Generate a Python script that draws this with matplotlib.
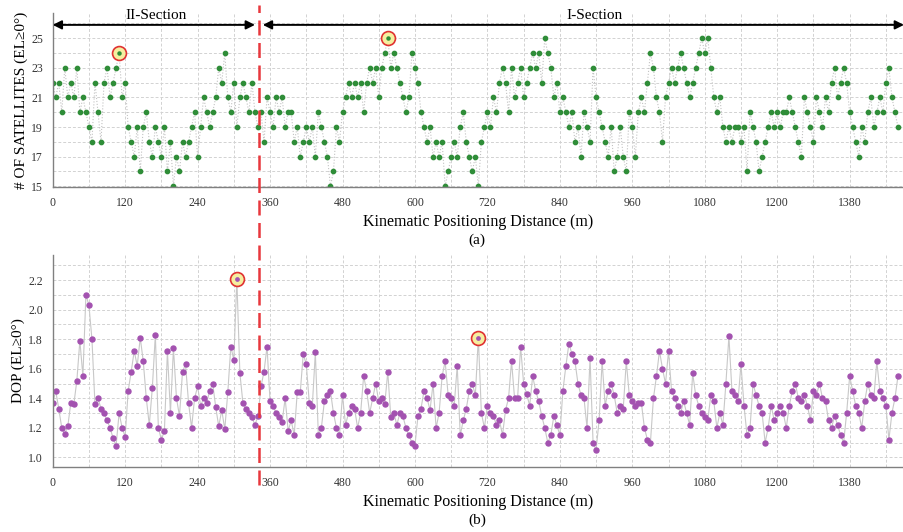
import numpy as np
import matplotlib
matplotlib.use('Agg')
import matplotlib.pyplot as plt
from matplotlib.lines import Line2D
from matplotlib import transforms

plt.rcParams['font.family'] = ['Liberation Serif', 'DejaVu Serif']

# distance along the track (m), one sample every 5 m
dist = np.arange(0, 1401, 5)

# number of satellites (EL>=0)
sats = [
    22, 21, 22, 20, 23, 21, 22, 21, 23, 20,
    21, 20, 19, 18, 22, 20, 18, 22, 23, 21,
    22, 23, 24, 21, 22, 19, 18, 17, 19, 16,
    19, 20, 18, 17, 19, 18, 17, 19, 16, 18,
    15, 17, 16, 18, 17, 18, 19, 20, 17, 19,
    21, 20, 19, 20, 21, 23, 22, 24, 21, 20,
    22, 19, 21, 22, 21, 20, 22, 20, 19, 20,
    18, 21, 20, 19, 21, 20, 21, 19, 20, 20,
    18, 19, 17, 18, 19, 18, 19, 17, 20, 19,
    18, 17, 15, 16, 19, 18, 20, 21, 22, 21,
    22, 21, 22, 20, 22, 23, 22, 23, 21, 23,
    24, 25, 23, 24, 23, 22, 21, 20, 21, 24,
    23, 22, 20, 19, 18, 19, 17, 18, 17, 18,
    15, 16, 17, 18, 17, 19, 20, 18, 17, 16,
    17, 15, 18, 19, 20, 19, 21, 20, 22, 23,
    22, 20, 23, 21, 22, 23, 21, 22, 23, 24,
    23, 24, 22, 25, 24, 23, 21, 22, 20, 21,
    20, 19, 20, 18, 19, 17, 20, 19, 18, 23,
    21, 20, 19, 18, 17, 19, 16, 17, 19, 17,
    16, 20, 19, 17, 20, 21, 20, 22, 24, 23,
    21, 20, 18, 21, 22, 23, 22, 23, 24, 23,
    22, 21, 22, 23, 24, 25, 24, 25, 23, 21,
    20, 21, 19, 18, 19, 18, 19, 19, 18, 19,
    16, 20, 19, 18, 16, 17, 18, 19, 20, 19,
    20, 19, 20, 20, 21, 20, 19, 18, 17, 21,
    20, 19, 18, 21, 20, 19, 21, 20, 22, 23,
    21, 22, 23, 22, 20, 19, 18, 17, 19, 18,
    20, 21, 19, 20, 21, 20, 22, 23, 21, 20,
    19,
]

# DOP (EL>=0)
dop = [
    1.37, 1.45, 1.33, 1.20, 1.16, 1.21, 1.37, 1.36, 1.52, 1.79,
    1.55, 2.10, 2.03, 1.80, 1.36, 1.40, 1.33, 1.30, 1.25, 1.20,
    1.13, 1.08, 1.30, 1.20, 1.14, 1.45, 1.58, 1.72, 1.62, 1.81,
    1.65, 1.40, 1.22, 1.47, 1.83, 1.20, 1.12, 1.18, 1.72, 1.30,
    1.74, 1.40, 1.28, 1.58, 1.63, 1.37, 1.20, 1.40, 1.48, 1.35,
    1.40, 1.37, 1.45, 1.50, 1.34, 1.21, 1.32, 1.19, 1.44, 1.75,
    1.66, 2.21, 1.57, 1.37, 1.33, 1.30, 1.27, 1.22, 1.28, 1.48,
    1.58, 1.75, 1.38, 1.35, 1.30, 1.27, 1.24, 1.40, 1.18, 1.25,
    1.15, 1.44, 1.44, 1.70, 1.63, 1.37, 1.35, 1.71, 1.15, 1.20,
    1.38, 1.42, 1.45, 1.30, 1.20, 1.15, 1.42, 1.22, 1.30, 1.35,
    1.33, 1.20, 1.30, 1.55, 1.45, 1.30, 1.40, 1.50, 1.38, 1.40,
    1.36, 1.58, 1.27, 1.30, 1.22, 1.30, 1.28, 1.20, 1.15, 1.10,
    1.08, 1.28, 1.33, 1.45, 1.40, 1.32, 1.50, 1.20, 1.30, 1.55,
    1.65, 1.42, 1.40, 1.35, 1.62, 1.15, 1.25, 1.33, 1.45, 1.50,
    1.42, 1.81, 1.30, 1.20, 1.35, 1.30, 1.28, 1.22, 1.25, 1.15,
    1.32, 1.40, 1.65, 1.40, 1.40, 1.75, 1.50, 1.43, 1.35, 1.55,
    1.45, 1.38, 1.28, 1.20, 1.10, 1.15, 1.28, 1.22, 1.15, 1.45,
    1.62, 1.77, 1.70, 1.65, 1.50, 1.42, 1.40, 1.20, 1.67, 1.10,
    1.05, 1.25, 1.65, 1.35, 1.45, 1.50, 1.42, 1.30, 1.35, 1.33,
    1.65, 1.42, 1.38, 1.35, 1.37, 1.37, 1.20, 1.12, 1.10, 1.40,
    1.55, 1.72, 1.60, 1.50, 1.72, 1.45, 1.40, 1.35, 1.30, 1.38,
    1.30, 1.22, 1.57, 1.42, 1.35, 1.30, 1.27, 1.25, 1.42, 1.38,
    1.20, 1.30, 1.22, 1.50, 1.82, 1.45, 1.42, 1.38, 1.63, 1.35,
    1.15, 1.20, 1.50, 1.42, 1.35, 1.30, 1.10, 1.20, 1.35, 1.25,
    1.30, 1.35, 1.30, 1.20, 1.35, 1.45, 1.50, 1.40, 1.38, 1.42,
    1.35, 1.25, 1.45, 1.42, 1.50, 1.40, 1.38, 1.25, 1.20, 1.28,
    1.22, 1.15, 1.10, 1.30, 1.55, 1.45, 1.35, 1.30, 1.20, 1.38,
    1.50, 1.42, 1.40, 1.65, 1.45, 1.40, 1.35, 1.12, 1.30, 1.40,
    1.55,
]

xticks = [0, 120, 240, 360, 480, 600, 720, 840, 960, 1080, 1200, 1320]
xtick_labels = ['0', '120', '240', '360', '480', '600', '720', '840',
                '960', '1080', '1200', '1380']
sat_marks = [110, 555]     # circled epochs in (a)
dop_marks = [305, 705]     # circled epochs in (b)
section_split = 341        # II-Section / I-Section boundary (m)

grid_c = '#d2d2d2'
green = '#2f8d38'
purple = '#a352b0'

fig = plt.figure(figsize=(9.04, 5.32), dpi=100)
ax1 = fig.add_axes([0.0583, 0.6485, 0.9417, 0.327])
ax2 = fig.add_axes([0.0583, 0.1222, 0.9417, 0.3985])

for ax in (ax1, ax2):
    for s in ['top', 'right']:
        ax.spines[s].set_visible(False)
    for s in ['left', 'bottom']:
        ax.spines[s].set_color('#808080')
        ax.spines[s].set_linewidth(1.0)
    ax.set_xlim(0, 1410)
    ax.set_xticks(xticks)
    ax.set_xticklabels(xtick_labels)
    ax.set_xticks(np.arange(0, 1410, 60), minor=True)
    ax.grid(which='both', color=grid_c, ls=(0, (3, 2)), lw=0.7)
    ax.set_axisbelow(True)
    ax.tick_params(which='both', length=0, labelsize=8.5, colors='#333333', pad=7)
    ax.set_xlabel('Kinematic Positioning Distance (m)', fontsize=11.5, labelpad=4)

# (a) satellites
ax1.plot(dist, sats, color='#c2c2c2', lw=0.8, ls=':', zorder=1)
ax1.plot(dist, sats, ls='none', marker='o', ms=3.1, color=green, zorder=2)
ax1.set_ylim(14.95, 26.7)
ax1.set_yticks(range(15, 26, 2))
ax1.set_yticks(range(15, 27), minor=True)
ax1.set_ylabel('# OF SATELLITES (EL\u22650\u00b0)', fontsize=11, labelpad=2)
for m in sat_marks:
    i = list(dist).index(m)
    ax1.plot(dist[i], sats[i], 'o', ms=10, mfc='#f5efa0', mec='#e03232', mew=1.2, zorder=4)
    ax1.plot(dist[i], sats[i], 'o', ms=2.2, color=green, zorder=5)

# (b) DOP
ax2.plot(dist, dop, color='#c8c8c8', lw=0.8, zorder=1)
ax2.plot(dist, dop, ls='none', marker='o', ms=3.6, color=purple, zorder=2)
ax2.set_ylim(0.935, 2.37)
ax2.set_yticks(np.arange(1.0, 2.21, 0.2))
ax2.set_yticklabels(['%.1f' % v for v in np.arange(1.0, 2.21, 0.2)])
ax2.set_yticks(np.arange(1.0, 2.35, 0.1), minor=True)
ax2.set_ylabel('DOP (EL\u22650\u00b0)', fontsize=11, labelpad=2)
for m in dop_marks:
    i = list(dist).index(m)
    ax2.plot(dist[i], dop[i], 'o', ms=10, mfc='#f5efa0', mec='#e03232', mew=1.2, zorder=4)
    ax2.plot(dist[i], dop[i], 'o', ms=2.4, color=purple, zorder=5)

# section arrows
arrow = dict(arrowstyle='<|-|>', color='black', lw=1.4, shrinkA=0, shrinkB=0,
             mutation_scale=13)
ax1.annotate('', xy=(0, 25.9), xytext=(section_split - 6, 25.9),
             arrowprops=arrow, annotation_clip=False)
ax1.annotate('', xy=(section_split + 7, 25.9), xytext=(1410, 25.9),
             arrowprops=arrow, annotation_clip=False)
ax1.text(section_split / 2, 26.5, 'II-Section', ha='center', va='center',
         fontsize=11, clip_on=False)
ax1.text(897, 26.5, 'I-Section', ha='center', va='center',
         fontsize=11, clip_on=False)

# boundary line through both panels
trans = transforms.blended_transform_factory(ax1.transData, fig.transFigure)
fig.add_artist(Line2D([section_split, section_split], [0.088, 0.99], transform=trans,
                      color='#e8383d', ls=(0, (6, 3)), lw=1.8, zorder=10))

fig.text(0.528, 0.548, '(a)', ha='center', va='center', fontsize=11)
fig.text(0.528, 0.022, '(b)', ha='center', va='center', fontsize=11)

fig.savefig('out.png', dpi=100)
